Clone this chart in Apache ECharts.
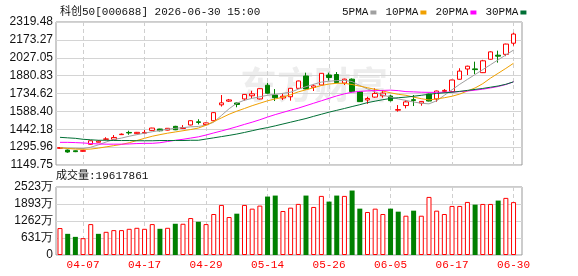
<!DOCTYPE html>
<html><head><meta charset="utf-8">
<script src="https://cdn.jsdelivr.net/npm/echarts@6/dist/echarts.min.js"></script>
<style>html,body{margin:0;padding:0;background:#fff}#c{width:578px;height:276px}</style>
</head><body><div id="c"></div>
<script>
// ---------- data ----------
const dates = ['04-01','04-02','04-03','04-07','04-08','04-09','04-10','04-13','04-14','04-15',
  '04-16','04-17','04-20','04-21','04-22','04-23','04-24','04-27','04-28','04-29',
  '04-30','05-06','05-07','05-08','05-11','05-12','05-13','05-14','05-15','05-18',
  '05-19','05-20','05-21','05-22','05-25','05-26','05-27','05-28','05-29','06-01',
  '06-02','06-03','06-04','06-05','06-08','06-09','06-10','06-11','06-12','06-15',
  '06-16','06-17','06-18','06-22','06-23','06-24','06-25','06-26','06-29','06-30'];
const opens  = [1286,1272,1266,1262,1319,1336,1360,1360,1398,1416, 1406,1410,1433,1444,1435,1466,1448,1477,1503,1480,
  1512,1642,1672,1657,1690,1716,1690,1802,1722,1698, 1708,1777,1878,1785,1804,1886,1890,1820,1852,1748,
  1682,1705,1716,1714,1598,1636,1684,1656,1730,1690, 1752,1750,1851,1935,1936,1905,2015,2048,2055,2146];
const closes = [1292,1256,1259,1267,1348,1345,1363,1375,1402,1412, 1417,1416,1452,1430,1450,1438,1456,1512,1498,1494,
  1578,1658,1682,1645,1727,1732,1774,1737,1700,1712, 1777,1837,1772,1797,1900,1865,1825,1852,1750,1668,
  1694,1735,1738,1676,1603,1666,1678,1670,1673,1755, 1760,1845,1918,1958,1930,2002,2075,2040,2139,2221];
const lows   = [1282,1250,1255,1258,1316,1334,1358,1357,1395,1397, 1403,1407,1430,1425,1432,1435,1444,1474,1482,1474,
  1508,1628,1665,1622,1676,1690,1686,1733,1673,1681, 1676,1774,1768,1755,1800,1840,1818,1804,1745,1665,
  1650,1700,1700,1670,1586,1613,1632,1635,1670,1667, 1741,1747,1848,1886,1894,1902,2012,1987,2040,2126];
const highs  = [1296,1276,1268,1270,1350,1352,1377,1395,1408,1430, 1420,1436,1454,1446,1452,1470,1476,1516,1524,1497,
  1582,1722,1690,1660,1730,1757,1778,1822,1771,1736, 1780,1840,1905,1810,1902,1905,1910,1856,1858,1750,
  1708,1777,1763,1722,1640,1681,1722,1673,1733,1758, 1771,1847,1941,1962,1995,2010,2080,2085,2142,2232];
const ma5  = [1291,1288,1286,1284,1295,1315,1338,1358,1370,1385, 1398,1410,1422,1432,1442,1450,1455,1462,1465,1475,
  1500,1555,1610,1655,1680,1695,1708,1720,1728,1736, 1745,1770,1790,1810,1828,1835,1840,1842,1832,1800,
  1772,1748,1722,1705,1690,1678,1665,1655,1650,1675, 1720,1765,1810,1850,1890,1930,1970,2010,2050,2090];
const ma10 = [1290,1285,1280,1278,1280,1288,1298,1308,1318,1332, 1350,1368,1385,1398,1410,1420,1430,1440,1452,1475,
  1505,1535,1565,1590,1612,1635,1655,1675,1690,1705, 1725,1748,1765,1782,1800,1812,1818,1818,1808,1795,
  1782,1768,1755,1740,1728,1720,1705,1692,1682,1690, 1700,1712,1730,1755,1780,1815,1860,1900,1940,1982];
const ma20 = [1335,1335,1333,1330,1325,1322,1320,1320,1320,1322, 1325,1327,1327,1332,1342,1352,1360,1370,1380,1395,
  1412,1428,1445,1463,1482,1500,1520,1542,1562,1580, 1598,1615,1635,1655,1675,1695,1715,1732,1745,1752,
  1756,1758,1760,1762,1758,1750,1748,1745,1744,1744, 1745,1747,1750,1755,1762,1770,1780,1792,1808,1830];
const ma30 = [1376,1372,1368,1360,1356,1352,1352,1350,1350,1350, 1348,1348,1348,1350,1350,1350,1350,1352,1352,1362,
  1372,1382,1392,1403,1416,1430,1444,1456,1470,1485, 1500,1515,1530,1548,1565,1582,1597,1612,1628,1643,
  1660,1672,1684,1694,1700,1705,1712,1720,1728,1735, 1740,1745,1752,1760,1768,1776,1786,1796,1810,1830];
const volumes = [10000000,7850000,6730000,6240000,11470000,7850000,8600000,9230000,9230000,9720000,
  10090000,9720000,11470000,9720000,10090000,11590000,11590000,13710000,12340000,11470000,
  15210000,18580000,14090000,15330000,18580000,17200000,18330000,21680000,22050000,16330000,
  17570000,18960000,22050000,17830000,21930000,19810000,22050000,21930000,23920000,17200000,
  15960000,17200000,15210000,17200000,16080000,14580000,16450000,14580000,21550000,16450000,
  15210000,18200000,18200000,19690000,18690000,18940000,18940000,20190000,21190000,19617861];
const volUp = [1,0,0,1,1,0,1,1,1,1, 1,1,1,0,1,0,1,1,0,1, 1,1,1,0,1,1,1,0,0,1,
  1,1,0,1,1,0,0,1,0,0, 1,1,1,0,0,1,0,1,1,1, 1,1,1,1,0,1,1,0,1,1];
const priceTickLabels = ['1149.75','1295.96','1442.18','1588.40','1734.62','1880.83','2027.05','2173.27','2319.48'];
const volTickLabels = ['0','631万','1262万','1893万','2523万'];
const xTickLabels = ['04-07','04-17','04-29','05-14','05-26','06-05','06-17','06-30'];
const titleText = '科创50[000688] 2026-06-30 15:00';
const volTitle = '成交量:19617861';
const maNames = ['5PMA','10PMA','20PMA','30PMA'];

// ---------- chart ----------
const MONO = "'Liberation Mono','Noto Sans CJK SC',monospace";
const SANS = "'Liberation Sans',Arial,sans-serif";
const RED = '#ff0000', GREEN = '#008000';
const pMin = 1149.75, pMax = 2319.48, pInt = (pMax - pMin) / 8;
const vMax = 25230000, vInt = vMax / 4;
const xTicks = xTickLabels.map(l => dates.indexOf(l));
const xMin = -0.52, xMax = 60.1;

const kData = dates.map((d, i) => [i, opens[i], closes[i], lows[i], highs[i]]);
const maColors = ['#a0a0a0', '#f0a000', '#ff00ff', '#006f35'];
const maData = [ma5, ma10, ma20, ma30];

function xAxisCfg(gi, showLabel) {
  return {
    type: 'value', gridIndex: gi, min: xMin, max: xMax,
    axisLine: { show: false },
    axisTick: { show: false, customValues: xTicks },
    axisLabel: {
      show: showLabel, customValues: xTicks, color: RED, fontFamily: MONO, fontSize: 11, margin: 5,
      formatter: v => dates[Math.round(v)]
    },
    splitLine: { show: true, lineStyle: { color: '#cfcfcf', type: [4, 3], width: 1 } }
  };
}

const option = {
  animation: false,
  backgroundColor: '#fff',
  title: { text: titleText, left: 55, top: 2, textStyle: { fontFamily: MONO, fontSize: 11, fontWeight: 'normal', color: '#111' } },
  legend: {
    top: 2, left: 337, align: 'right', icon: 'rect', itemWidth: 6, itemHeight: 4, itemGap: 9,
    textStyle: { fontFamily: MONO, fontSize: 11, color: '#111', padding: [0, -3, 0, 0] },
    data: maNames
  },
  grid: [
    { left: 56, top: 22, width: 466, height: 143, show: true, borderColor: '#999', borderWidth: 1, backgroundColor: 'transparent' },
    { left: 56, top: 187, width: 466, height: 68, show: true, borderColor: '#999', borderWidth: 1, backgroundColor: 'transparent' }
  ],
  xAxis: [xAxisCfg(0, false), xAxisCfg(1, true)],
  yAxis: [
    {
      type: 'value', gridIndex: 0, min: pMin, max: pMax, interval: pInt,
      axisLine: { show: false }, axisTick: { show: false },
      axisLabel: { color: '#111', fontFamily: SANS, fontSize: 12, margin: 3,
        formatter: v => priceTickLabels[Math.round((v - pMin) / pInt)] },
      splitLine: { lineStyle: { color: '#d4d4d4', width: 1 } }
    },
    {
      type: 'value', gridIndex: 1, min: 0, max: vMax, interval: vInt,
      axisLine: { show: false }, axisTick: { show: false },
      axisLabel: { color: '#111', fontFamily: SANS, fontSize: 12, margin: 3,
        formatter: v => volTickLabels[Math.round(v / vInt)] },
      splitLine: { lineStyle: { color: '#d4d4d4', width: 1 } }
    }
  ],
  graphic: [
    { type: 'text', left: 240, top: 66, z: 0, silent: true,
      style: { text: '东方财富', fill: '#ededed', font: "bold 37px 'Noto Sans CJK SC'" } },
    { type: 'text', left: 56, top: 171, style: { text: volTitle, fill: '#111', font: "11px " + MONO } }
  ],
  series: [
    {
      type: 'candlestick', xAxisIndex: 0, yAxisIndex: 0, barWidth: 5,
      encode: { x: 0, y: [1, 2, 3, 4] },
      itemStyle: { color: '#fff', color0: GREEN, borderColor: RED, borderColor0: GREEN, borderWidth: 1 },
      data: kData, z: 3
    },
    ...maNames.map((n, k) => ({
      name: n, type: 'line', xAxisIndex: 0, yAxisIndex: 0, showSymbol: false, symbol: 'none',
      lineStyle: { width: 1, color: maColors[k] }, itemStyle: { color: maColors[k] },
      data: maData[k].map((v, i) => [i, v]), z: 4
    })),
    {
      type: 'bar', xAxisIndex: 1, yAxisIndex: 1, barWidth: 5, barGap: '-100%',
      itemStyle: { color: '#fff', borderColor: RED, borderWidth: 1 },
      data: volumes.map((v, i) => [i, v]).filter((d, i) => volUp[i] === 1)
    },
    {
      type: 'bar', xAxisIndex: 1, yAxisIndex: 1, barWidth: 5, barGap: '-100%',
      itemStyle: { color: GREEN, borderColor: GREEN, borderWidth: 0 },
      data: volumes.map((v, i) => [i, v]).filter((d, i) => volUp[i] === 0)
    }
  ]
};
const chart = echarts.init(document.getElementById('c'), null, { renderer: 'canvas' });
chart.setOption(option);
</script>
</body></html>
